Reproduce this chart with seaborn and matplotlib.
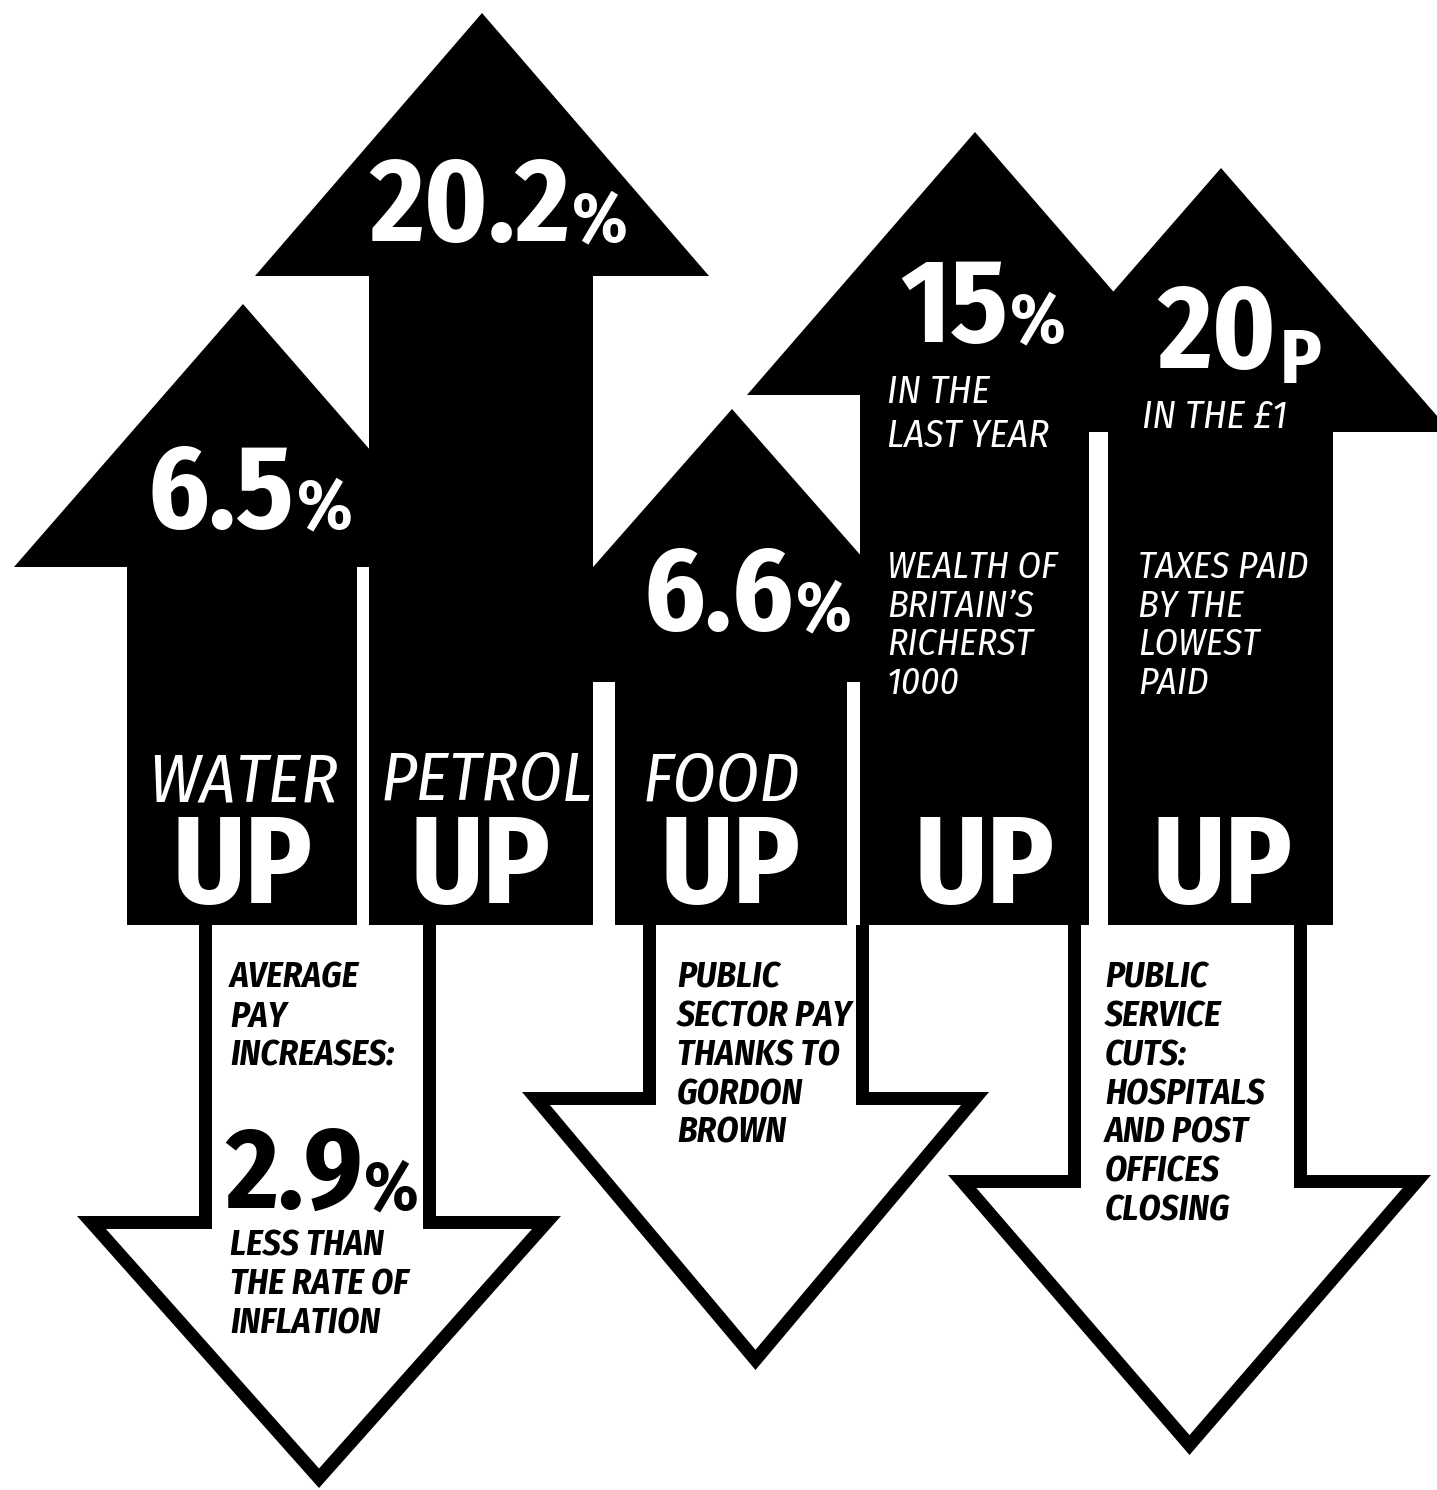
import matplotlib
matplotlib.use("Agg")
import matplotlib.pyplot as plt
from matplotlib.patches import Polygon
from matplotlib import font_manager
import seaborn as sns
import numpy as np

# ---------------- data ----------------
categories = ["WATER", "PETROL", "FOOD", "", ""]
headline_numbers = ["6.5", "20.2", "6.6", "15", "20"]
headline_units = ["%", "%", "%", "%", "P"]
headline_notes = ["", "", "", "IN THE\nLAST YEAR", "IN THE £1"]
detail_notes = ["", "", "",
                "WEALTH OF\nBRITAIN’S\nRICHERST\n1000",
                "TAXES PAID\nBY THE\nLOWEST\nPAID"]
direction_word = "UP"
down_notes_top = ["AVERAGE\nPAY\nINCREASES:",
                  "PUBLIC\nSECTOR PAY\nTHANKS TO\nGORDON\nBROWN",
                  "PUBLIC\nSERVICE\nCUTS:\nHOSPITALS\nAND POST\nOFFICES\nCLOSING"]
down_number = "2.9"
down_unit = "%"
down_note_bottom = "LESS THAN\nTHE RATE OF\nINFLATION"

# ---------------- layout (pixel space) ----------------
W, H = 1437, 1490
up_shaft_left = [127, 369, 615, 860, 1108]
up_shaft_right = [357, 593, 847, 1089, 1333]
up_tip_x = [243, 482, 732, 975, 1221]
up_tip_y = [304, 13, 409, 132, 168]
up_head_base = [567, 276, 682, 395, 432]
up_head_half = [229, 227, 240, 228, 230]
up_bottom = 925

down_shaft_left = [199, 643, 1068]
down_shaft_right = [436, 869, 1307]
down_head_left = [77, 522, 948]
down_head_right = [561, 989, 1431]
down_head_base = [1216, 1092, 1175]
down_tip_y = [1488, 1370, 1455]
outline_px = 13

num_pos = [(148, 528), (369, 241), (643, 630), (900, 342), (1157, 368)]
cat_pos = [(148, 802), (381, 800), (643, 800)]
up_word_x = [172, 410, 660, 915, 1153]
up_word_y = 903
note_pos = [None, None, None, (887, 403), (1142, 428)]
note_gap = 44
detail_pos = [None, None, None, (887, 578), (1138, 578)]
detail_gap = 38.7
down_top_pos = [(230, 988), (677, 988), (1105, 988)]
down_gap = 38.7
down_num_pos = (225, 1209)
down_bottom_pos = (230, 1256)

# ---------------- style ----------------
sns.set_theme(style="white")
avail = {f.name for f in font_manager.fontManager.ttflist}
FONT = next((f for f in ["Fira Sans Condensed", "Roboto Condensed", "PT Sans Narrow",
                         "Liberation Sans"] if f in avail), "DejaVu Sans")
plt.rcParams["font.family"] = [FONT, "DejaVu Sans"]

fig = plt.figure(figsize=(W / 100, H / 100), dpi=100)
fig.patch.set_facecolor("white")
ax = fig.add_axes([0, 0, 1, 1])
ax.set_xlim(0, W)
ax.set_ylim(H, 0)
sns.despine(ax=ax, left=True, bottom=True)
ax.set_axis_off()
renderer = fig.canvas.get_renderer()


def inset(points, d):
    P = np.asarray(points, float)
    n = len(P)
    area = 0.5 * np.sum(P[:, 0] * np.roll(P[:, 1], -1) - np.roll(P[:, 0], -1) * P[:, 1])
    sgn = 1.0 if area > 0 else -1.0
    lines = []
    for i in range(n):
        a, b = P[i], P[(i + 1) % n]
        t = (b - a) / np.linalg.norm(b - a)
        nrm = np.array([-t[1], t[0]]) * sgn
        lines.append((a + nrm * d, t))
    out = []
    for i in range(n):
        p1, t1 = lines[i - 1]
        p2, t2 = lines[i]
        A = np.array([t1, -t2]).T
        s, _ = np.linalg.solve(A, p2 - p1)
        out.append(p1 + s * t1)
    return np.array(out)


# down arrows (white with black outline)
for i in range(3):
    sl, sr = down_shaft_left[i], down_shaft_right[i]
    hl, hr = down_head_left[i], down_head_right[i]
    base, tip = down_head_base[i], down_tip_y[i]
    cx = (hl + hr) / 2
    outer = [(sl, up_bottom), (sr, up_bottom), (sr, base), (hr, base),
             (cx, tip), (hl, base), (sl, base)]
    inner = inset(outer, outline_px)
    inner[0, 1] = up_bottom - 2
    inner[1, 1] = up_bottom - 2
    ax.add_patch(Polygon(outer, closed=True, facecolor="black", edgecolor="none", zorder=1))
    ax.add_patch(Polygon(inner, closed=True, facecolor="white", edgecolor="none", zorder=2))

# up arrows (solid black)
for i in range(5):
    sl, sr = up_shaft_left[i], up_shaft_right[i]
    tx, ty = up_tip_x[i], up_tip_y[i]
    base, half = up_head_base[i], up_head_half[i]
    pts = [(sl, up_bottom), (sl, base), (tx - half, base), (tx, ty),
           (tx + half, base), (sr, base), (sr, up_bottom)]
    ax.add_patch(Polygon(pts, closed=True, facecolor="black", edgecolor="none", zorder=3 + i))


def txt(x, y, s, size, color, weight="normal", style="normal"):
    return ax.text(x, y, s, fontsize=size, color=color, fontweight=weight,
                   fontstyle=style, ha="left", va="baseline", zorder=20)


# headline numbers
for i in range(5):
    x, y = num_pos[i]
    t = txt(x, y, headline_numbers[i], 85, "white", weight="bold")
    bb = t.get_window_extent(renderer=renderer)
    if headline_units[i] == "P":
        txt(bb.x1 + 4, y + 15, headline_units[i], 55, "white", weight="bold")
    else:
        txt(bb.x1 + 2, y, headline_units[i], 51, "white", weight="bold")

# categories and UP
for i, c in enumerate(categories):
    if c:
        x, y = cat_pos[i]
        txt(x, y, c, 50, "white", style="italic")
    txt(up_word_x[i], up_word_y, direction_word, 89, "white", weight="bold")

# notes on up arrows
for i in range(5):
    if headline_notes[i]:
        x, y = note_pos[i]
        for k, line in enumerate(headline_notes[i].split("\n")):
            txt(x, y + k * note_gap, line, 28, "white", style="italic")
    if detail_notes[i]:
        x, y = detail_pos[i]
        for k, line in enumerate(detail_notes[i].split("\n")):
            txt(x, y + k * detail_gap, line, 27, "white", style="italic")

# notes on down arrows
for i in range(3):
    x, y = down_top_pos[i]
    for k, line in enumerate(down_notes_top[i].split("\n")):
        txt(x, y + k * down_gap, line, 25.5, "black", weight="bold", style="italic")

x, y = down_num_pos
t = txt(x, y, down_number, 82, "black", weight="bold")
bb = t.get_window_extent(renderer=renderer)
txt(bb.x1 + 1, y, down_unit, 50, "black", weight="bold")
x, y = down_bottom_pos
for k, line in enumerate(down_note_bottom.split("\n")):
    txt(x, y + k * down_gap, line, 25.5, "black", weight="bold", style="italic")

fig.savefig("out.png", dpi=100, facecolor="white")
